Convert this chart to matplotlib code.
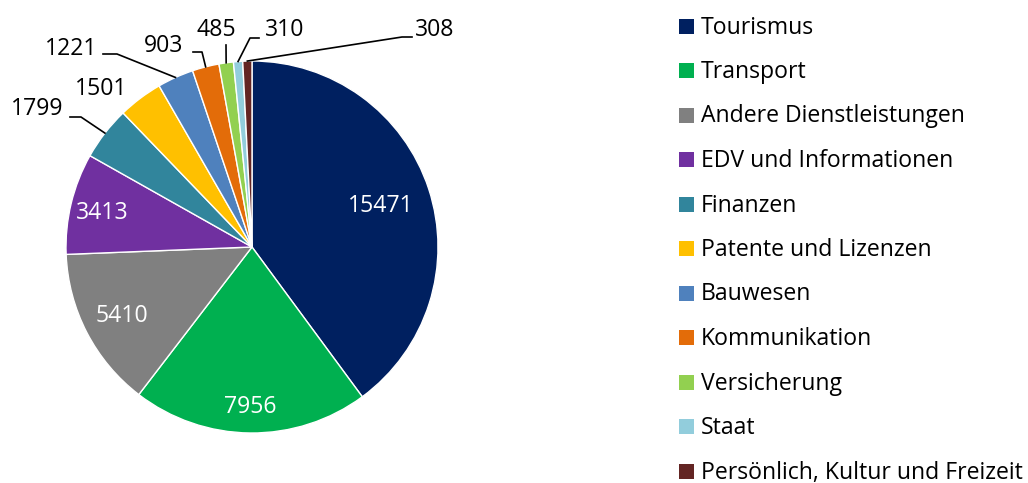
import matplotlib.pyplot as plt
from matplotlib.patches import Rectangle
import numpy as np

plt.rcParams['font.family'] = ['Open Sans', 'DejaVu Sans']

# data
categories = ["Tourismus", "Transport", "Andere Dienstleistungen", "EDV und Informationen",
              "Finanzen", "Patente und Lizenzen", "Bauwesen", "Kommunikation",
              "Versicherung", "Staat", "Persönlich, Kultur und Freizeit"]
values = [15471, 7956, 5410, 3413, 1799, 1501, 1221, 903, 485, 310, 308]
colors = ["#002060", "#00B050", "#808080", "#7030A0", "#31859C", "#FFC000",
          "#4F81BD", "#E36C09", "#92D050", "#92CDDC", "#632523"]

W, H = 1028, 483
cx, cy, R = 252, 247, 186
FS = 16.6

fig = plt.figure(figsize=(W / 100, H / 100), dpi=100)
ax = fig.add_axes([(cx - R) / W, (H - cy - R) / H, 2 * R / W, 2 * R / H])
wedges, _ = ax.pie(values, colors=colors, startangle=90, counterclock=False,
                   radius=1, wedgeprops=dict(edgecolor="white", linewidth=1))
ax.set_xlim(-1, 1)
ax.set_ylim(-1, 1)
ax.set_aspect("equal")
ax.set_clip_on(False)


def px(x, y):
    # pixel -> data coords
    return (x - cx) / R, (cy - y) / R


# inner labels (radius fraction from centre)
inner_r = {0: 0.73, 1: 0.85, 2: 0.79, 3: 0.83}
for i, r in inner_r.items():
    w = wedges[i]
    ang = np.deg2rad((w.theta1 + w.theta2) / 2)
    ax.text(r * np.cos(ang), r * np.sin(ang) - 0.01, str(values[i]), color="white",
            fontsize=FS, ha="center", va="center")

# outside labels: text centre and leader path (pixels)
outside = {
    4: ((37, 109), [(70, 117), (81, 117)]),
    5: ((101, 89), None),
    6: ((71, 49), [(103, 54), (117, 54)]),
    7: ((164, 46), [(193, 52), (202, 52)]),
    8: ((216, 30), [(226, 45)]),
    9: ((285, 30), [(259, 38), (250, 38)]),
    10: ((435, 30), [(412, 37), (402, 37)]),
}
for i, (tpos, path) in outside.items():
    tx, ty = px(*tpos)
    ax.text(tx, ty, str(values[i]), color="black", fontsize=FS,
            ha="center", va="center")
    if path:
        w = wedges[i]
        ang = np.deg2rad((w.theta1 + w.theta2) / 2)
        pts = [px(*p) for p in path] + [(np.cos(ang), np.sin(ang))]
        xs, ys = zip(*pts)
        ax.plot(xs, ys, color="black", lw=1.2, clip_on=False)

# legend
row0, step = 26, 44.5
for k, (lab, col) in enumerate(zip(categories, colors)):
    yc = row0 + k * step
    fig.patches.append(Rectangle((679 / W, (H - yc - 7.5) / H), 15 / W, 15 / H,
                                 transform=fig.transFigure, facecolor=col,
                                 edgecolor="none"))
    fig.text(701 / W, (H - yc - 1.5) / H, lab, fontsize=FS, va="center", ha="left",
             color="black")

fig.savefig("out.png", dpi=100)
